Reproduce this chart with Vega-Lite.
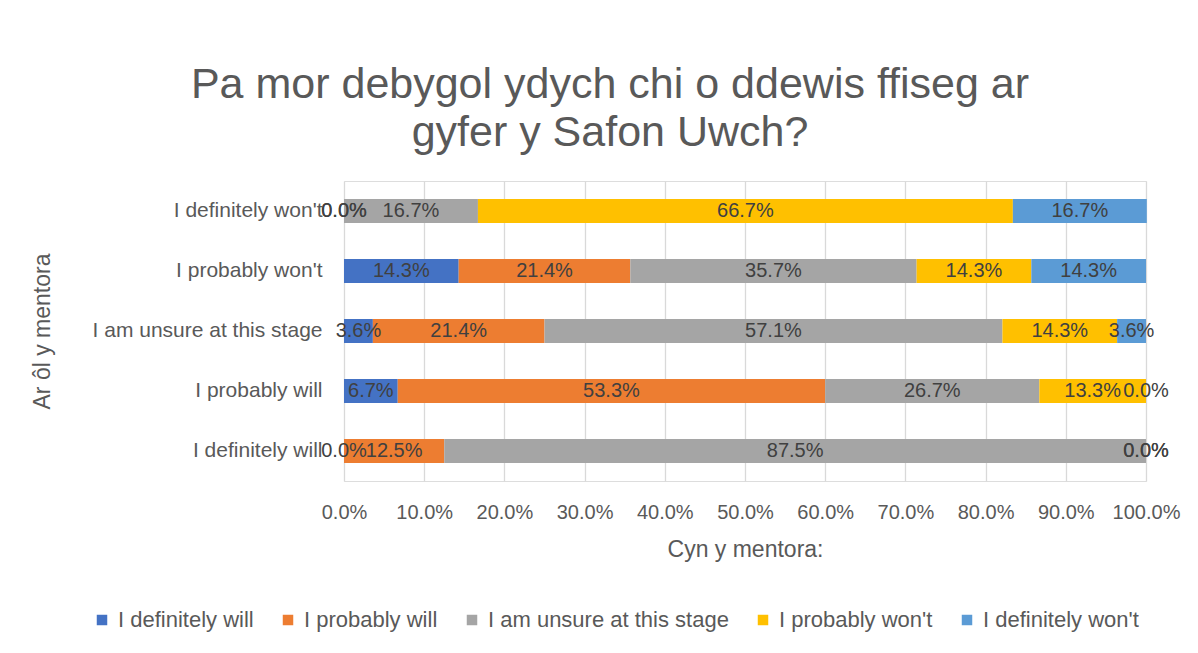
{
  "$schema": "https://vega.github.io/schema/vega-lite/v6.json",
  "width": 802,
  "height": 300,
  "autosize": {"type": "none"},
  "padding": {"left": 344, "top": 181, "right": 52, "bottom": 172},
  "background": "white",
  "title": {
    "text": ["Pa mor debygol ydych chi o ddewis ffiseg ar", "gyfer y Safon Uwch?"],
    "anchor": "middle",
    "dx": -135,
    "offset": 26,
    "fontSize": 43,
    "font": "Liberation Sans",
    "fontWeight": "normal",
    "color": "#595959",
    "lineHeight": 48
  },
  "data": {
    "values": [
      {"y": "I definitely won't", "s": "I definitely will", "k": 1, "v": 0.0},
      {"y": "I definitely won't", "s": "I probably will", "k": 2, "v": 0.0},
      {"y": "I definitely won't", "s": "I am unsure at this stage", "k": 3, "v": 0.167},
      {"y": "I definitely won't", "s": "I probably won't", "k": 4, "v": 0.667},
      {"y": "I definitely won't", "s": "I definitely won't", "k": 5, "v": 0.167},
      {"y": "I probably won't", "s": "I definitely will", "k": 1, "v": 0.143},
      {"y": "I probably won't", "s": "I probably will", "k": 2, "v": 0.214},
      {"y": "I probably won't", "s": "I am unsure at this stage", "k": 3, "v": 0.357},
      {"y": "I probably won't", "s": "I probably won't", "k": 4, "v": 0.143},
      {"y": "I probably won't", "s": "I definitely won't", "k": 5, "v": 0.143},
      {"y": "I am unsure at this stage", "s": "I definitely will", "k": 1, "v": 0.036},
      {"y": "I am unsure at this stage", "s": "I probably will", "k": 2, "v": 0.214},
      {"y": "I am unsure at this stage", "s": "I am unsure at this stage", "k": 3, "v": 0.571},
      {"y": "I am unsure at this stage", "s": "I probably won't", "k": 4, "v": 0.143},
      {"y": "I am unsure at this stage", "s": "I definitely won't", "k": 5, "v": 0.036},
      {"y": "I probably will", "s": "I definitely will", "k": 1, "v": 0.067},
      {"y": "I probably will", "s": "I probably will", "k": 2, "v": 0.533},
      {"y": "I probably will", "s": "I am unsure at this stage", "k": 3, "v": 0.267},
      {"y": "I probably will", "s": "I probably won't", "k": 4, "v": 0.133},
      {"y": "I probably will", "s": "I definitely won't", "k": 5, "v": 0.0},
      {"y": "I definitely will", "s": "I definitely will", "k": 1, "v": 0.0},
      {"y": "I definitely will", "s": "I probably will", "k": 2, "v": 0.125},
      {"y": "I definitely will", "s": "I am unsure at this stage", "k": 3, "v": 0.875},
      {"y": "I definitely will", "s": "I probably won't", "k": 4, "v": 0.0},
      {"y": "I definitely will", "s": "I definitely won't", "k": 5, "v": 0.0}
    ]
  },
  "encoding": {
    "y": {
      "field": "y",
      "type": "nominal",
      "sort": ["I definitely won't", "I probably won't", "I am unsure at this stage", "I probably will", "I definitely will"],
      "scale": {"paddingInner": 0.6, "paddingOuter": 0.3},
      "title": "Ar ôl y mentora",
      "axis": {
        "ticks": false,
        "domain": false,
        "labelPadding": 22,
        "labelFontSize": 21,
        "labelLimit": 0,
        "labelColor": "#595959",
        "titleFontSize": 23,
        "titleColor": "#595959",
        "titleFontWeight": "normal",
        "titleX": -302,
        "titleY": 150,
        "titleAngle": -90,
        "titleAnchor": "middle",
        "titleAlign": "center",
        "titleBaseline": "middle",
        "labelFont": "Liberation Sans",
        "titleFont": "Liberation Sans"
      }
    },
    "x": {
      "field": "v",
      "type": "quantitative",
      "stack": "zero",
      "scale": {"domain": [0, 1], "nice": false},
      "title": "Cyn y mentora:",
      "axis": {
        "format": ".1%",
        "values": [0, 0.1, 0.2, 0.3, 0.4, 0.5, 0.6, 0.7, 0.8, 0.9, 1.0],
        "labelOverlap": false,
        "labelFlush": false,
        "ticks": false,
        "domain": false,
        "grid": true,
        "gridColor": "#D9D9D9",
        "gridWidth": 1.3,
        "labelPadding": 21,
        "labelFontSize": 20,
        "labelColor": "#595959",
        "titleFontSize": 23,
        "titleColor": "#595959",
        "titleFontWeight": "normal",
        "titlePadding": 16,
        "labelFont": "Liberation Sans",
        "titleFont": "Liberation Sans"
      }
    },
    "order": {"field": "k", "type": "quantitative", "sort": "ascending"}
  },
  "layer": [
    {
      "mark": {"type": "bar"},
      "encoding": {
        "color": {
          "field": "s",
          "type": "nominal",
          "sort": ["I definitely will", "I probably will", "I am unsure at this stage", "I probably won't", "I definitely won't"],
          "scale": {
            "domain": ["I definitely will", "I probably will", "I am unsure at this stage", "I probably won't", "I definitely won't"],
            "range": ["#4472C4", "#ED7D31", "#A5A5A5", "#FFC000", "#5B9BD5"]
          },
          "legend": {
            "title": null,
            "orient": "none",
            "direction": "horizontal",
            "legendX": -253,
            "legendY": 428,
            "symbolType": "square",
            "symbolSize": 110,
            "symbolStrokeWidth": 0,
            "labelFontSize": 22,
            "labelLimit": 0,
            "labelColor": "#595959",
            "labelFont": "Liberation Sans",
            "columnPadding": 23,
            "labelOffset": 5
          }
        }
      }
    },
    {
      "mark": {"type": "text", "fontSize": 20, "color": "#404040", "font": "Liberation Sans"},
      "encoding": {
        "x": {"field": "v", "type": "quantitative", "stack": "zero", "bandPosition": 0.5},
        "text": {"field": "v", "type": "quantitative", "format": ".1%"}
      }
    }
  ]
}
